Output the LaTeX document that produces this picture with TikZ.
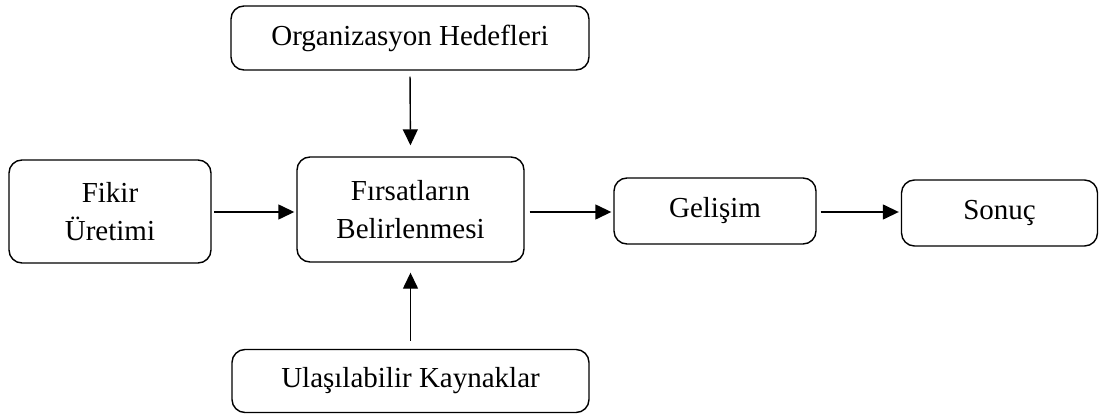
\documentclass[tikz,border=0pt]{standalone}
\usepackage{fontspec}
\setmainfont{Liberation Serif}
\usetikzlibrary{arrows.meta}
\begin{document}
\begin{tikzpicture}[x=1pt,y=-1pt,
  box/.style={draw, line width=1.4pt, rounded corners=13pt, align=center,
    inner sep=0pt, font=\fontsize{29}{38}\selectfont},
  flow/.style={line width=1.4pt, -{Triangle[length=16pt,width=15pt]}}]
  \useasboundingbox (0,0) rectangle (1105,414);
  \node[box, minimum width=358pt, minimum height=64pt] (org) at (410,38) {Organizasyon Hedefleri};
  \node[box, minimum width=202pt, minimum height=103pt] (fikir) at (110,211.5) {Fikir\\Üretimi};
  \node[box, minimum width=227pt, minimum height=105pt] (firsat) at (410.5,209.5) {Fırsatların\\Belirlenmesi};
  \node[box, minimum width=202pt, minimum height=66pt] (gel) at (715,211) {Gelişim};
  \node[box, minimum width=196pt, minimum height=66pt] (son) at (999.5,213) {Sonuç};
  \node[box, minimum width=357pt, minimum height=63pt] (ulas) at (410.5,381) {Ulaşılabilir Kaynaklar};
  \draw[flow, shorten <=2.5pt, shorten >=2pt] (fikir.east |- 0,212) -- (firsat.west |- 0,212);
  \draw[flow, shorten <=5pt, shorten >=2pt] (firsat.east |- 0,212) -- (gel.west |- 0,212);
  \draw[flow, shorten <=4pt, shorten >=2pt] (gel.east |- 0,212) -- (son.west |- 0,212);
  \draw[flow, shorten <=6pt, shorten >=11pt] (org.south) -- (firsat.north);
  \draw[flow, shorten <=8pt, shorten >=10pt] (ulas.north) -- (firsat.south);
\end{tikzpicture}
\end{document}
